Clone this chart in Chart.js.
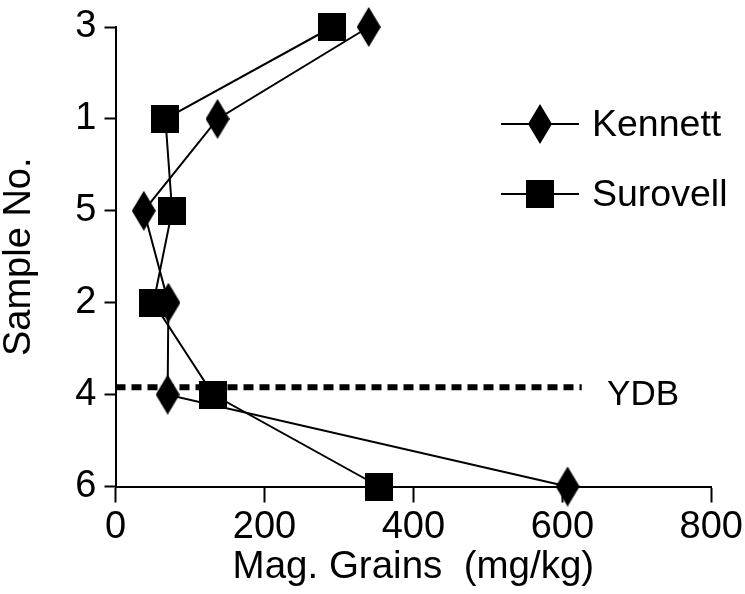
<!DOCTYPE html>
<html>
<head>
<meta charset="utf-8">
<script src="https://cdn.jsdelivr.net/npm/chart.js@4/dist/chart.umd.min.js"></script>
<style>
  html, body { margin: 0; padding: 0; background: #fff; }
  #wrap { width: 745px; height: 594px; }
</style>
</head>
<body>
<div id="wrap"><canvas id="chart" width="745" height="594"></canvas></div>
<script>
'use strict';
// sample numbers, top to bottom
const samples = ['3', '1', '5', '2', '4', '6'];
// mag. grains (mg/kg) per sample, same order
const kennett = [340, 137, 38, 71, 70, 607];
const surovell = [291, 67, 76, 51, 131, 354];
const xTicks = [0, 200, 400, 600, 800];
// YDB boundary, in sample-row units (just above sample 4)
const ydbRow = 3.92;
const ydbEnd = 626;
const ydbText = 'YDB';

const FONT = 'Liberation Sans, Arial, sans-serif';

// marker images
const makeMarker = (w, h, draw) => {
	let c = document.createElement('canvas');
	c.width = w; c.height = h;
	let g = c.getContext('2d');
	g.fillStyle = '#000';
	draw(g, w, h);
	return c;
};
const diamond = makeMarker(24, 40, (g, w, h) => {
	g.beginPath();
	g.moveTo(w / 2, 0); g.lineTo(w, h / 2); g.lineTo(w / 2, h); g.lineTo(0, h / 2);
	g.closePath(); g.fill();
});
const square = makeMarker(28, 28, (g, w, h) => g.fillRect(0, 0, w, h));

const toPoints = arr => arr.map((v, i) => ({x: v, y: i}));

// legend + YDB label
const extras = {
	id: 'extras',
	afterDraw(chart) {
		const ctx = chart.ctx,
			xs = chart.scales.x,
			ys = chart.scales.y;
		ctx.save();
		ctx.fillStyle = '#000';
		ctx.font = '35px ' + FONT;
		ctx.textBaseline = 'middle';
		ctx.textAlign = 'left';
		ctx.fillText(ydbText, xs.getPixelForValue(660), ys.getPixelForValue(ydbRow) + 8);

		const items = [['Kennett', diamond, 124], ['Surovell', square, 194]];
		ctx.font = '37.5px ' + FONT;
		items.forEach(([label, img, y]) => {
			ctx.strokeStyle = '#000';
			ctx.lineWidth = 2;
			ctx.beginPath();
			ctx.moveTo(501, y); ctx.lineTo(579, y);
			ctx.stroke();
			ctx.drawImage(img, 540 - img.width / 2, y - img.height / 2);
			ctx.fillText(label, 592, y + 2);
		});
		ctx.restore();
	}
};

new Chart(document.getElementById('chart').getContext('2d'), {
	type: 'line',
	data: {
		datasets: [{
			label: 'YDB',
			data: [{x: 0, y: ydbRow}, {x: ydbEnd, y: ydbRow}],
			borderColor: '#000',
			borderWidth: 6,
			borderDash: [10, 6],
			pointRadius: 0,
			clip: false
		}, {
			label: 'Surovell',
			data: toPoints(surovell),
			borderColor: '#000',
			borderWidth: 2,
			pointStyle: square,
			pointRadius: 14,
			clip: false
		}, {
			label: 'Kennett',
			data: toPoints(kennett),
			borderColor: '#000',
			borderWidth: 2,
			pointStyle: diamond,
			pointRadius: 14,
			clip: false
		}]
	},
	options: {
		responsive: false,
		animation: false,
		layout: {padding: {top: 24, right: 32, left: 0, bottom: 0}},
		plugins: {legend: {display: false}, tooltip: {enabled: false}},
		scales: {
			x: {
				type: 'linear',
				min: 0, max: 800,
				afterBuildTicks: s => { s.ticks = xTicks.map(v => ({value: v})); },
				afterFit: s => { s.height = 107.5; },
				border: {display: true, color: '#000', width: 2},
				grid: {drawOnChartArea: false, tickLength: 16, tickColor: '#000', tickWidth: 2},
				ticks: {color: '#000', font: {family: FONT, size: 38}, padding: 2, maxRotation: 0},
				title: {display: true, text: 'Mag. Grains  (mg/kg)', color: '#000',
					font: {family: FONT, size: 38.5}, padding: {top: 0, bottom: 4}}
			},
			y: {
				type: 'linear',
				reverse: true,
				min: 0, max: samples.length - 1,
				afterBuildTicks: s => { s.ticks = samples.map((v, i) => ({value: i})); },
				afterFit: s => { s.width = 115.5; },
				border: {display: true, color: '#000', width: 2},
				grid: {drawOnChartArea: false, tickLength: 11, tickColor: '#000', tickWidth: 2},
				ticks: {color: '#000', font: {family: FONT, size: 38, lineHeight: 1}, padding: 8,
					callback: v => samples[v]},
				title: {display: true, text: 'Sample No.', color: '#000',
					font: {family: FONT, size: 38, lineHeight: 1.05}, padding: 0}
			}
		}
	},
	plugins: [extras]
});
</script>
</body>
</html>
